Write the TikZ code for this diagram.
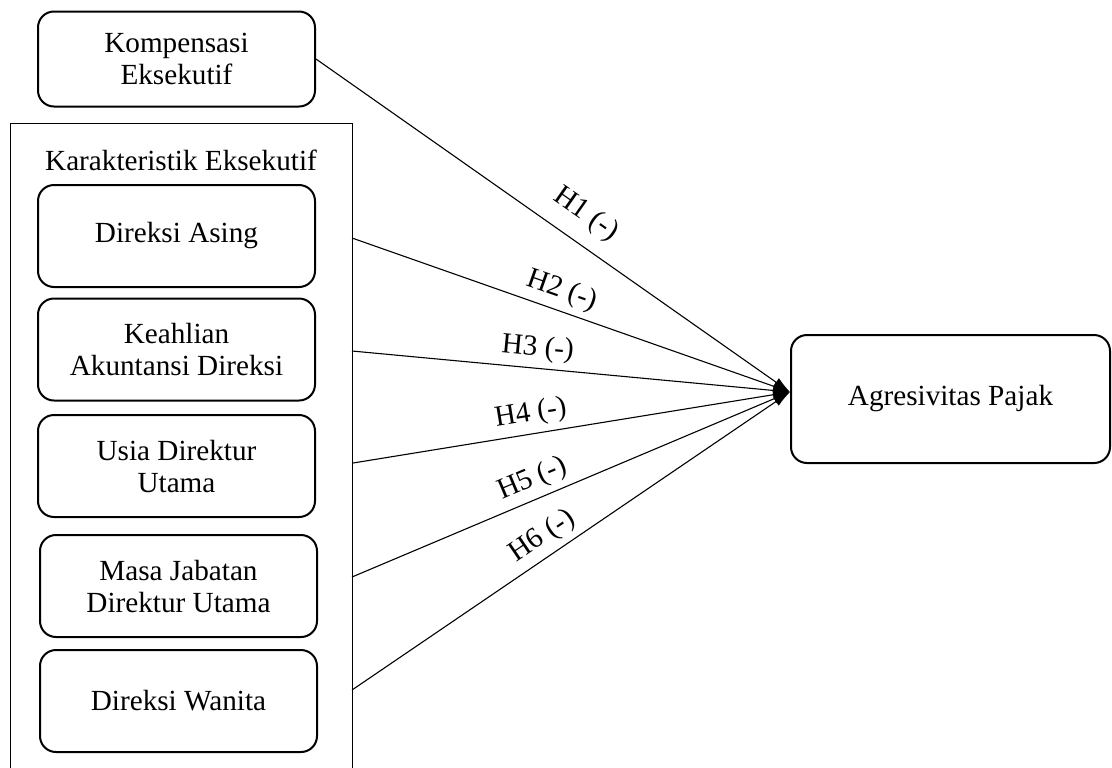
\documentclass[tikz,border=0pt]{standalone}
\usepackage{fontspec}
\setmainfont{Liberation Serif}
\usetikzlibrary{arrows.meta}
\begin{document}
\begin{tikzpicture}[x=0.5pt,y=-0.5pt,
  varbox/.style={draw,line width=1pt,rounded corners=8pt,minimum width=138.5pt,minimum height=51pt,align=center,inner sep=0pt,font=\fontsize{14.6}{16}\selectfont},
  link/.style={line width=0.55pt,-{Latex[length=8.5pt,width=5pt]}},
  hlab/.style={sloped,above,inner sep=3pt,font=\fontsize{14.6}{16}\selectfont}]
\useasboundingbox (0,0) rectangle (1112,767);
\clip (0,0) rectangle (1112,767);
% outer group
\node[draw,line width=0.7pt,minimum width=171pt,minimum height=340pt,anchor=north west,inner sep=0pt] (grp) at (10,123) {};
\node[font=\fontsize{14.6}{16}\selectfont] (grplabel) at (181,160) {Karakteristik Eksekutif};
% boxes
\node[varbox,minimum height=47.5pt] (komp) at (176.5,59) {Kompensasi\\Eksekutif};
\node[varbox] (da) at (176.5,236) {Direksi Asing};
\node[varbox] (kad) at (176.5,349.5) {Keahlian\\Akuntansi Direksi};
\node[varbox] (udu) at (176.5,466) {Usia Direktur\\Utama};
\node[varbox] (mjdu) at (178.5,586) {Masa Jabatan\\Direktur Utama};
\node[varbox] (dw) at (178.5,701) {Direksi Wanita};
\node[varbox,minimum width=159.5pt,minimum height=64pt] (ap) at (950.5,399) {Agresivitas Pajak};
% connector ends
\coordinate (tip) at (790,392);
\coordinate (s2) at (352,238);
\coordinate (s3) at (352,351);
\coordinate (s4) at (353,463);
\coordinate (s5) at (352,577);
\coordinate (s6) at (352,690);
% connectors
\draw[link] (komp.east) -- node[hlab,pos=0.535,inner sep=7pt] {H1 (-)} (tip);
\draw[link] (s2) -- node[hlab,pos=0.465] {H2 (-)} (tip);
\draw[link] (s3) -- node[hlab,pos=0.42] {H3 (-)} (tip);
\draw[link] (s4) -- node[hlab,pos=0.414] {H4 (-)} (tip);
\draw[link] (s5) -- node[hlab,pos=0.43] {H5 (-)} (tip);
\draw[link] (s6) -- node[hlab,pos=0.46] {H6 (-)} (tip);
\end{tikzpicture}
\end{document}
